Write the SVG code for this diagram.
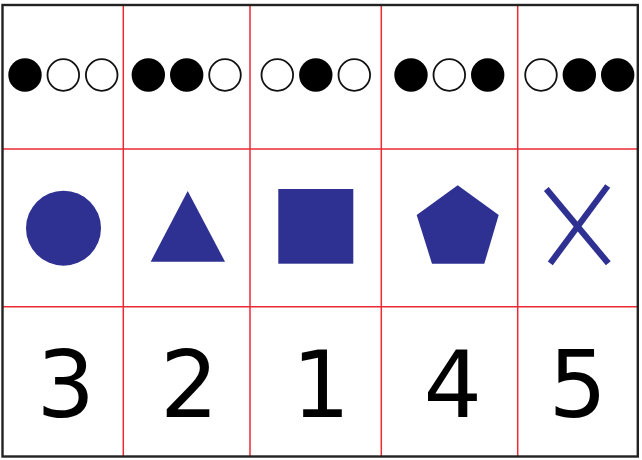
<svg xmlns="http://www.w3.org/2000/svg" width="642" height="460" viewBox="0 0 642 460">
<style>
.grid{stroke:#ec2a33;stroke-width:1.5;fill:none}
.on{fill:#000}
.off{fill:#fff;stroke:#111;stroke-width:1.8}
.shape{fill:#2e3192}
.num{font-family:"DejaVu Sans",sans-serif;font-size:92px;fill:#000;text-anchor:middle}
</style>
<rect x="0" y="0" width="642" height="460" fill="#fff"/>
<g id="connectors">
<line class="grid" x1="123.3" y1="5" x2="123.3" y2="456"/>
<line class="grid" x1="250" y1="5" x2="250" y2="456"/>
<line class="grid" x1="381.3" y1="5" x2="381.3" y2="456"/>
<line class="grid" x1="517.7" y1="5" x2="517.7" y2="456"/>
<line class="grid" x1="2.5" y1="149" x2="638" y2="149"/>
<line class="grid" x1="2.5" y1="306.7" x2="638" y2="306.7"/>
</g>
<rect x="2.5" y="5" width="635.3" height="451.5" fill="none" stroke="#222" stroke-width="2.4"/>
<g id="dots1">
<circle class="on" cx="25" cy="75" r="16.7"/>
<circle class="off" cx="63.3" cy="75" r="15.8"/>
<circle class="off" cx="101.7" cy="75" r="15.8"/>
</g>
<g id="dots2">
<circle class="on" cx="148.3" cy="75" r="16.7"/>
<circle class="on" cx="186.7" cy="75" r="16.7"/>
<circle class="off" cx="225" cy="75" r="15.8"/>
</g>
<g id="dots3">
<circle class="off" cx="277.3" cy="75" r="15.8"/>
<circle class="on" cx="315.8" cy="75" r="16.7"/>
<circle class="off" cx="354.3" cy="75" r="15.8"/>
</g>
<g id="dots4">
<circle class="on" cx="411" cy="75" r="16.7"/>
<circle class="off" cx="449.3" cy="75" r="15.8"/>
<circle class="on" cx="487.7" cy="75" r="16.7"/>
</g>
<g id="dots5">
<circle class="off" cx="541" cy="75" r="15.8"/>
<circle class="on" cx="579.3" cy="75" r="16.7"/>
<circle class="on" cx="617.7" cy="75" r="16.7"/>
</g>
<g id="circle"><circle class="shape" cx="63.5" cy="228.2" r="37.5"/></g>
<g id="triangle"><polygon class="shape" points="187.7,191 225,261.7 150.7,261.7"/></g>
<g id="square"><rect class="shape" x="278.3" y="189" width="75" height="74.7"/></g>
<g id="pentagon"><polygon class="shape" points="457.7,185.3 498.7,215 484.3,263.7 432,263.7 416.7,215"/></g>
<g id="cross">
<line x1="546.3" y1="189" x2="608.3" y2="263.3" stroke="#2e3192" stroke-width="6.2"/>
<line x1="607.7" y1="186" x2="550.3" y2="263.3" stroke="#2e3192" stroke-width="6.2"/>
</g>
<g id="n3"><text class="num" x="65.7" y="417">3</text></g>
<g id="n2"><text class="num" x="189.3" y="417">2</text></g>
<g id="n1"><text class="num" x="321" y="417">1</text></g>
<g id="n4"><text class="num" x="452.7" y="417">4</text></g>
<g id="n5"><text class="num" x="577.7" y="417">5</text></g>
</svg>
